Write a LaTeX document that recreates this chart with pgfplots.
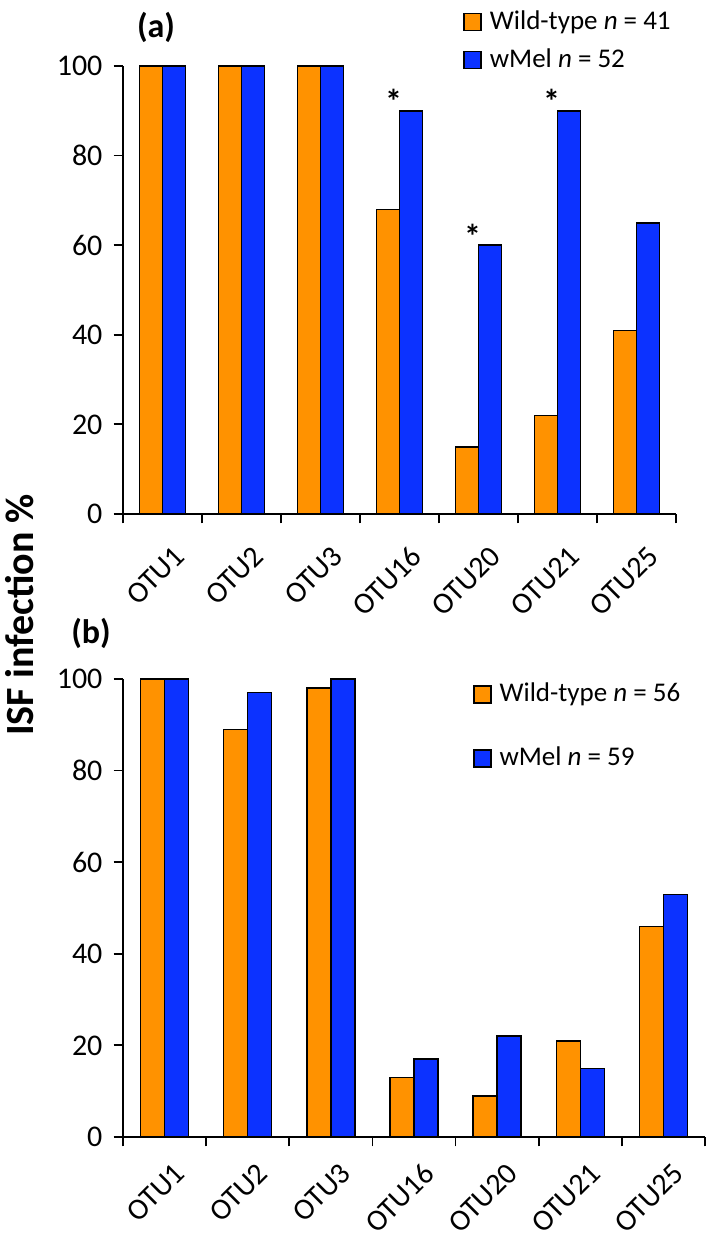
\documentclass[border=0pt]{standalone}
\usepackage{fontspec}
\setmainfont{Carlito}
\usepackage{pgfplots}
\usepackage{pgfplotstable}
\pgfplotsset{compat=1.18}
\definecolor{wtorange}{RGB}{255,146,0}
\definecolor{wmblue}{RGB}{12,50,255}

\pgfplotstableread{
cat wt wm
0 100 100
1 100 100
2 100 100
3 68 90
4 15 60
5 22 90
6 41 65
}\dataA
\pgfplotstableread{
cat wt wm
0 100 100
1 89 97
2 98 100
3 13 17
4 9 22
5 21 15
6 46 53
}\dataB
\pgfplotstableread{
cat star
3 90
4 60
5 90
}\starsA

\pgfplotsset{
  panel/.style={
    scale only axis,
    axis lines*=left,
    axis line style={line width=0.9pt,-},
    ymin=0, ymax=100,
    ytick={0,20,40,60,80,100},
    xmin=-0.5, xmax=6.5,
    xtick={-0.5,0.5,1.5,2.5,3.5,4.5,5.5,6.5},
    x tick label as interval,
    xticklabels={OTU1,OTU2,OTU3,OTU16,OTU20,OTU21,OTU25},
    tick align=outside,
    major tick length=4.75pt,
    tick style={line width=0.9pt, black},
    ticklabel style={font=\fontsize{15}{18}\selectfont},
    yticklabel style={xshift=-2pt},
    /pgf/number format/assume math mode=true,
    ybar,
    legend image code/.code={\draw[##1, line width=0.7pt] (0pt,-4.25pt) rectangle (8.5pt,4.25pt);},
    legend style={draw=none, fill=none, font=\fontsize{13.5}{16}\selectfont,
      anchor=north west, inner sep=0pt, column sep=3pt,
      nodes={inner sep=1pt, text height=9.5pt, text depth=2.5pt},
      cells={anchor=west}},
  },
  wt/.style={fill=wtorange, draw=black, line width=0.75pt},
  wm/.style={fill=wmblue, draw=black, line width=0.75pt},
}

\begin{document}
\begin{tikzpicture}
\useasboundingbox (0,0) rectangle (354.5pt,620pt);

% panel (a)
\begin{axis}[panel,
  at={(61.5pt,363pt)}, anchor=south west,
  width=276.5pt, height=224pt,
  bar width=11.5pt,
  xticklabel style={xshift=11pt, yshift=-11.5pt, rotate=45, anchor=east},
  legend style={at={(axis description cs:0.615,1.13)}, row sep=5pt},
]
\addplot[wt, bar shift=-5.75pt] table[x=cat, y=wt] {\dataA};
\addplot[wm, bar shift=5.75pt] table[x=cat, y=wm] {\dataA};
\addplot[forget plot, draw=none, fill=none, bar shift=-3pt,
  nodes near coords={\textbf{*}},
  every node near coord/.append style={font=\fontsize{17}{17}\selectfont, anchor=base, inner sep=0pt, yshift=-1.5pt}]
  table[x=cat, y=star] {\starsA};
\legend{Wild-type \textit{n} = 41, wMel \textit{n} = 52}
\end{axis}

% panel (b)
\begin{axis}[panel,
  at={(61.5pt,51.5pt)}, anchor=south west,
  width=291pt, height=229pt,
  bar width=12pt,
  xticklabel style={xshift=10pt, yshift=-8.5pt, rotate=45, anchor=east},
  legend style={at={(axis description cs:0.601,0.998)}, row sep=18pt},
]
\addplot[wt, bar shift=-6pt] table[x=cat, y=wt] {\dataB};
\addplot[wm, bar shift=6pt] table[x=cat, y=wm] {\dataB};
\legend{Wild-type \textit{n} = 56, wMel \textit{n} = 59}
\end{axis}

\node[font=\bfseries\fontsize{17}{17}\selectfont] at (78pt,606.5pt) {(a)};
\node[font=\bfseries\fontsize{17}{17}\selectfont] at (45.5pt,303.5pt) {(b)};
\node[rotate=90, font=\bfseries\fontsize{20}{20}\selectfont] at (10pt,312.5pt) {ISF infection \%};
\end{tikzpicture}
\end{document}
